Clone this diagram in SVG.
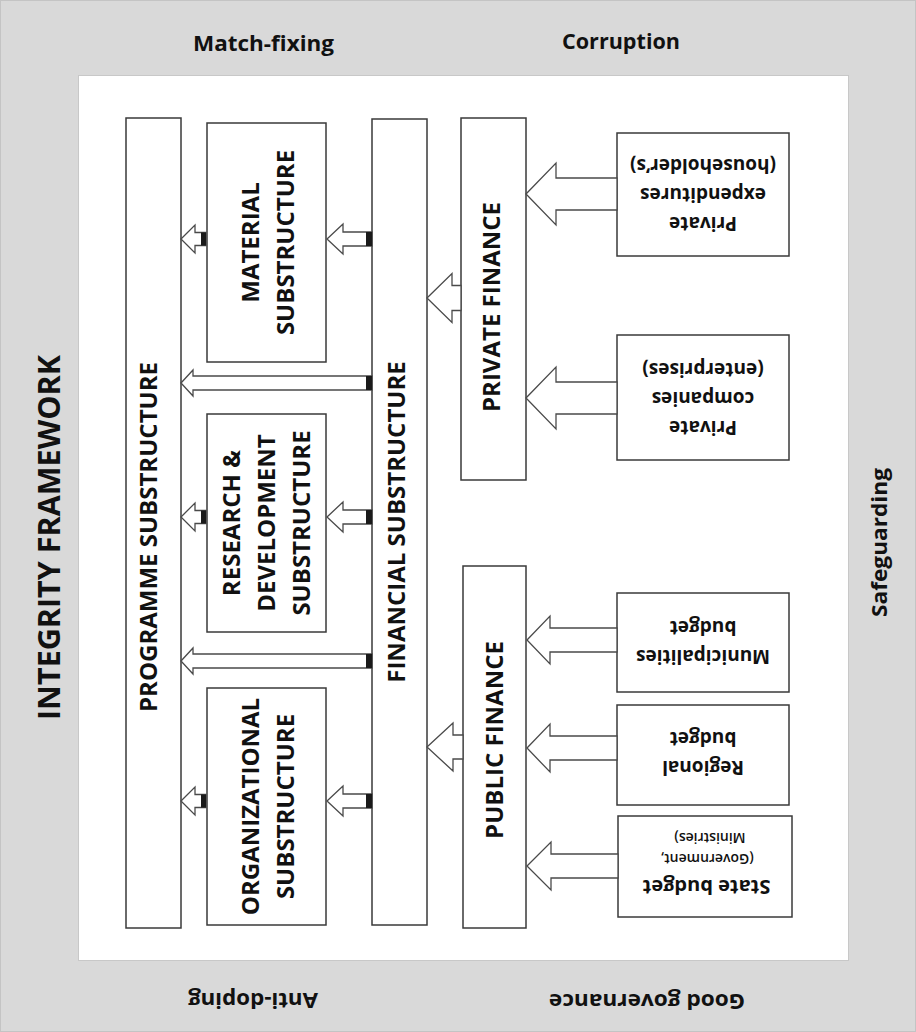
<svg xmlns="http://www.w3.org/2000/svg" width="916" height="1032" viewBox="0 0 916 1032">
<style>
.box{fill:#fff;stroke:#3a3a3a;stroke-width:1.5}
.arr{fill:#fff;stroke:#4a4a4a;stroke-width:1.3;stroke-linejoin:miter}
.stub{fill:#1a1a1a}
.t{font-family:"Open Sans","Liberation Sans",sans-serif;font-weight:700;fill:#111;text-anchor:middle}
.big{font-size:24px}
.side{font-family:"Open Sans","Liberation Sans",sans-serif;font-weight:700;fill:#111;text-anchor:middle;font-size:21px}
.rb{font-size:19px}
.sm{font-size:14px;font-weight:600}
</style>
<rect x="0.5" y="0.5" width="915" height="1031" fill="#d9d9d9" stroke="#c4c4c4"/>
<rect x="78.5" y="75.5" width="770" height="885" fill="#fff" stroke="#c8c8c8"/>

<g id="labels-frame">
<text class="side" x="263.5" y="51" textLength="141" lengthAdjust="spacingAndGlyphs">Match-fixing</text>
<text class="side" x="621" y="49" textLength="118" lengthAdjust="spacingAndGlyphs">Corruption</text>
<text class="side" x="253" y="1009" textLength="130" lengthAdjust="spacingAndGlyphs" transform="rotate(180 253 1001)">Anti-doping</text>
<text class="side" x="647" y="1010" textLength="196" lengthAdjust="spacingAndGlyphs" transform="rotate(180 647 1002)">Good governance</text>
<text class="side" transform="translate(887 542.5) rotate(-90)" textLength="149" lengthAdjust="spacingAndGlyphs">Safeguarding</text>
<text class="t" style="font-size:31px" transform="translate(60 537.5) rotate(-90)" textLength="365" lengthAdjust="spacingAndGlyphs">INTEGRITY FRAMEWORK</text>
</g>

<g id="programme">
<rect class="box" x="126" y="118" width="55" height="810"/>
<text class="t big" transform="translate(157 537) rotate(-90)">PROGRAMME SUBSTRUCTURE</text>
</g>
<g id="material">
<rect class="box" x="207" y="123" width="119" height="239"/>
<text class="t big" transform="translate(259 242.5) rotate(-90)">MATERIAL</text>
<text class="t big" transform="translate(294 242.5) rotate(-90)">SUBSTRUCTURE</text>
</g>
<g id="research">
<rect class="box" x="207" y="414" width="119" height="218"/>
<text class="t big" transform="translate(240 523) rotate(-90)">RESEARCH &amp;</text>
<text class="t big" transform="translate(275 523) rotate(-90)">DEVELOPMENT</text>
<text class="t big" transform="translate(310 523) rotate(-90)">SUBSTRUCTURE</text>
</g>
<g id="organizational">
<rect class="box" x="207" y="688" width="119" height="237"/>
<text class="t big" transform="translate(259 806.5) rotate(-90)">ORGANIZATIONAL</text>
<text class="t big" transform="translate(294 806.5) rotate(-90)">SUBSTRUCTURE</text>
</g>
<g id="financial">
<rect class="box" x="372" y="119" width="55" height="806"/>
<text class="t big" transform="translate(405 522) rotate(-90)">FINANCIAL SUBSTRUCTURE</text>
</g>
<g id="private-finance">
<rect class="box" x="461" y="118" width="65" height="362"/>
<text class="t big" transform="translate(500 307) rotate(-90)">PRIVATE FINANCE</text>
</g>
<g id="public-finance">
<rect class="box" x="463" y="566" width="63" height="362"/>
<text class="t big" transform="translate(503 740) rotate(-90)">PUBLIC FINANCE</text>
</g>

<g id="private-expenditures">
<rect class="box" x="617" y="133" width="172" height="123"/>
<g transform="rotate(180 703 194.5)">
<text class="t rb" x="703" y="172">Private</text>
<text class="t rb" x="703" y="201">expenditures</text>
<text class="t rb" x="703" y="230">(householder’s)</text>
</g>
</g>
<g id="private-companies">
<rect class="box" x="617" y="335" width="172" height="125"/>
<g transform="rotate(180 703 397.5)">
<text class="t rb" x="703" y="374">Private</text>
<text class="t rb" x="703" y="403">companies</text>
<text class="t rb" x="703" y="432">(enterprises)</text>
</g>
</g>
<g id="municipalities">
<rect class="box" x="617" y="593" width="172" height="99"/>
<g transform="rotate(180 703 642.5)">
<text class="t rb" x="703" y="635">Municipalities</text>
<text class="t rb" x="703" y="664">budget</text>
</g>
</g>
<g id="regional">
<rect class="box" x="617" y="705" width="172" height="100"/>
<g transform="rotate(180 703 755)">
<text class="t rb" x="703" y="749">Regional</text>
<text class="t rb" x="703" y="778">budget</text>
</g>
</g>
<g id="state">
<rect class="box" x="618" y="816" width="174" height="101"/>
<g transform="rotate(180 705 866.5)">
<text class="t rb" x="703.5" y="853.5" style="font-size:20px">State budget</text>
<text class="t sm" x="703" y="879.5">(Government,</text>
<text class="t sm" x="700" y="900">Ministries)</text>
</g>
</g>

<g id="connectors">
<polygon class="arr" points="526,194 556,163 556,178 617,178 617,210 556,210 556,225"/>
<polygon class="arr" points="526,398 556,367 556,382 617,382 617,414 556,414 556,429"/>
<polygon class="arr" points="527,640 550,616 550,628 617,628 617,652 550,652 550,664"/>
<polygon class="arr" points="527,748 550,724 550,736 617,736 617,760 550,760 550,772"/>
<polygon class="arr" points="527,866 551,842 551,854 618,854 618,878 551,878 551,890"/>
<polygon class="arr" points="427,298 452,273.5 452,285.5 461,285.5 461,310.5 452,310.5 452,322.5"/>
<polygon class="arr" points="427,747 453,723 453,735 463,735 463,759 453,759 453,771"/>

<polygon class="arr" points="327,239 343,224 343,232 372,232 372,246 343,246 343,254"/>
<rect class="stub" x="366" y="232" width="6" height="14"/>
<polygon class="arr" points="181,239 195,225 195,232.5 206,232.5 206,245.5 195,245.5 195,253"/>
<rect class="stub" x="201" y="232.5" width="5" height="13"/>

<polygon class="arr" points="181,383 193,370 193,376 372,376 372,390 193,390 193,396"/>
<rect class="stub" x="366" y="376" width="6" height="14"/>

<polygon class="arr" points="327,517 343,502 343,510 372,510 372,524 343,524 343,532"/>
<rect class="stub" x="366" y="510" width="6" height="14"/>
<polygon class="arr" points="181,517 195,503 195,510.5 206,510.5 206,523.5 195,523.5 195,531"/>
<rect class="stub" x="201" y="510.5" width="5" height="13"/>

<polygon class="arr" points="181,661 193,648 193,654 372,654 372,668 193,668 193,674"/>
<rect class="stub" x="366" y="654" width="6" height="14"/>

<polygon class="arr" points="327,801 343,786 343,794 372,794 372,808 343,808 343,816"/>
<rect class="stub" x="366" y="794" width="6" height="14"/>
<polygon class="arr" points="181,801 195,787 195,794.5 206,794.5 206,807.5 195,807.5 195,815"/>
<rect class="stub" x="201" y="794.5" width="5" height="13"/>
</g>
</svg>
